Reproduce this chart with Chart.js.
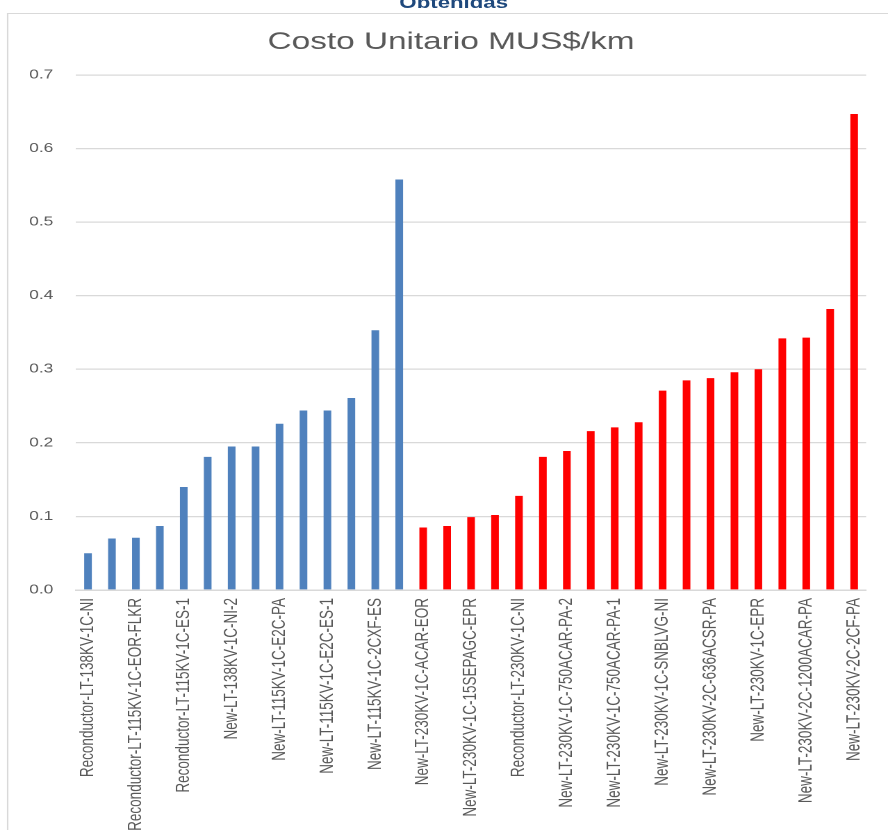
<!DOCTYPE html>
<html>
<head>
<meta charset="utf-8">
<script src="https://cdn.jsdelivr.net/npm/chart.js@4/dist/chart.umd.min.js"></script>
<style>
  html, body { margin: 0; padding: 0; background: #ffffff; overflow: hidden; }
  body { width: 888px; height: 830px; position: relative; }
  #wrap {
    position: absolute; left: 0; top: 0;
    width: 639px; height: 830px;
    transform-origin: 0 0;
    transform: scaleX(1.38967);
  }
  #frame {
    position: absolute; left: 5px; top: 13px; width: 700px; height: 900px;
    border-left: 1.6px solid #d9d9d9; border-top: 1.6px solid #d9d9d9;
  }
  #heading {
    position: absolute; left: 0; top: -8px; width: 653px;
    text-align: center; font: bold 16px "Liberation Sans", Arial, sans-serif;
    line-height: 22px; color: #1F497D;
  }
  #chart { position: absolute; left: 0; top: 0; }
</style>
</head>
<body>
<div id="wrap">
  <div id="frame"></div>
  <div id="heading">Obtenidas</div>
  <canvas id="chart" width="639" height="830"></canvas>
</div>
<script>
// Line types (every second name is shown on the axis)
const categories = [
  'Reconductor-LT-138KV-1C-NI', '',
  'Reconductor-LT-115KV-1C-EOR-FLKR', '',
  'Reconductor-LT-115KV-1C-ES-1', '',
  'New-LT-138KV-1C-NI-2', '',
  'New-LT-115KV-1C-E2C-PA', '',
  'New-LT-115KV-1C-E2C-ES-1', '',
  'New-LT-115KV-1C-2CXF-ES', '',
  'New-LT-230KV-1C-ACAR-EOR', '',
  'New-LT-230KV-1C-15SEPAGC-EPR', '',
  'Reconductor-LT-230KV-1C-NI', '',
  'New-LT-230KV-1C-750ACAR-PA-2', '',
  'New-LT-230KV-1C-750ACAR-PA-1', '',
  'New-LT-230KV-1C-SNBLVG-NI', '',
  'New-LT-230KV-2C-636ACSR-PA', '',
  'New-LT-230KV-1C-EPR', '',
  'New-LT-230KV-2C-1200ACAR-PA', '',
  'New-LT-230KV-2C-2CF-PA'
];

// Unit cost, MUS$/km — 115/138 kV lines
const costo115y138 = [0.050, 0.070, 0.071, 0.087, 0.140, 0.181, 0.195, 0.195,
                      0.226, 0.244, 0.244, 0.261, 0.353, 0.558];
// Unit cost, MUS$/km — 230 kV lines
const costo230 = [0.085, 0.087, 0.099, 0.102, 0.128, 0.181, 0.189, 0.216, 0.221,
                  0.228, 0.271, 0.285, 0.288, 0.296, 0.300, 0.342, 0.343, 0.382, 0.647];

const yTicks = [0, 0.1, 0.2, 0.3, 0.4, 0.5, 0.6, 0.7];

const pad = (n) => new Array(n).fill(null);
const serieBaja = costo115y138.concat(pad(costo230.length));
const serieAlta = pad(costo115y138.length).concat(costo230);

const gray = '#595959';
const gridGray = '#d9d9d9';

new Chart(document.getElementById('chart'), {
  type: 'bar',
  data: {
    labels: categories,
    datasets: [
      { data: serieBaja, backgroundColor: '#4F81BD', grouped: false,
        barPercentage: 0.32, categoryPercentage: 1 },
      { data: serieAlta, backgroundColor: '#FF0000', grouped: false,
        barPercentage: 0.32, categoryPercentage: 1 }
    ]
  },
  options: {
    responsive: false,
    animation: false,
    devicePixelRatio: 2,
    layout: { padding: { left: 21, right: 10.9, top: 0, bottom: 0 } },
    plugins: {
      legend: { display: false },
      tooltip: { enabled: false },
      title: {
        display: true,
        text: 'Costo Unitario MUS$/km',
        color: gray,
        font: { family: '"Liberation Sans", Arial, sans-serif', size: 24, weight: 'normal', lineHeight: 1.2 },
        padding: { top: 28, bottom: 18.2 }
      }
    },
    scales: {
      x: {
        grid: { display: false, drawTicks: false },
        border: { display: true, color: gridGray, width: 1.5 },
        ticks: {
          autoSkip: false,
          minRotation: 90, maxRotation: 90,
          padding: 8,
          color: gray,
          font: { family: '"Liberation Sans", Arial, sans-serif', size: 13.5 }
        },
        afterFit: (scale) => { scale.height = 240; }
      },
      y: {
        min: 0, max: 0.7,
        afterBuildTicks: (scale) => { scale.ticks = yTicks.map(v => ({ value: v })); },
        grid: { color: gridGray, lineWidth: 1.3, drawTicks: false },
        border: { display: false },
        ticks: {
          crossAlign: 'far',
          color: gray,
          font: { family: '"Liberation Sans", Arial, sans-serif', size: 12.5 },
          callback: (v) => Number(v).toFixed(1)
        },
        afterFit: (scale) => { scale.width = 33.7; }
      }
    }
  }
});
</script>
</body>
</html>
